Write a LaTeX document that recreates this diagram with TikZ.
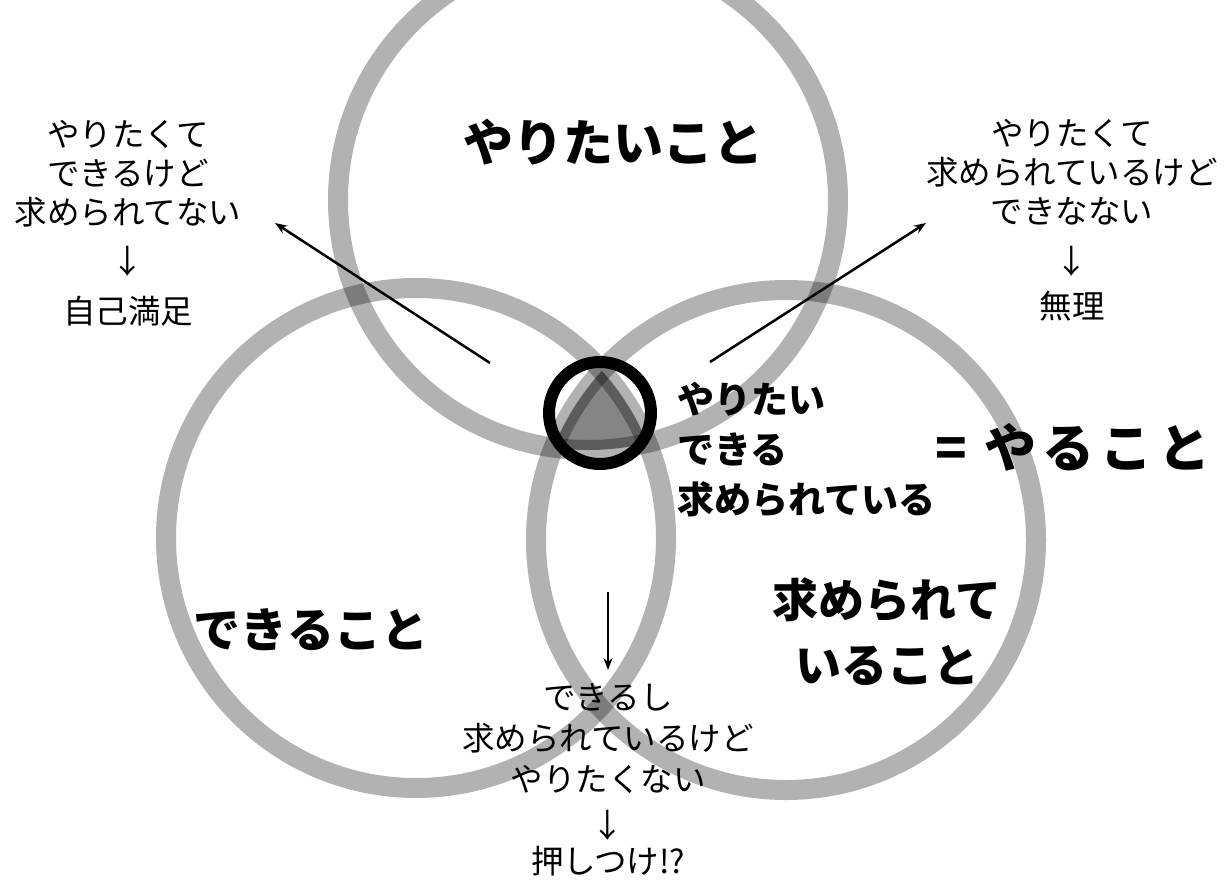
\documentclass[tikz,border=0pt]{standalone}
\usepackage{fontspec}
\newfontfamily\jp{Noto Sans CJK JP}
\usetikzlibrary{arrows.meta}
\tikzset{
  ring/.style={draw=black, draw opacity=0.3, line width=20pt},
  bigtxt/.style={font=\jp\bfseries\fontsize{50}{64}\selectfont, inner sep=0pt, align=center},
  midtxt/.style={font=\jp\bfseries\fontsize{37}{50}\selectfont, inner sep=0pt, align=left},
  smalltxt/.style={font=\jp\fontsize{32.5}{39}\selectfont, inner sep=0pt, align=center},
  arr/.style={line width=2.5pt, -{Stealth[length=12pt,width=9pt]}}
}
\begin{document}
\begin{tikzpicture}[x=1pt,y=-1pt]
\useasboundingbox (0,0) rectangle (1232,887);
\fill[white] (0,0) rectangle (1232,887);
% triple intersection fill
\begin{scope}
  \clip (588,200) circle[radius=250pt];
  \clip (416,538) circle[radius=250pt];
  \fill[black, fill opacity=0.48] (786,540) circle[radius=250pt];
\end{scope}
% circles
\draw[ring] (588,200) circle[radius=250pt];
\draw[ring] (416,538) circle[radius=250pt];
\draw[ring] (786,540) circle[radius=250pt];
% black ring
\draw[line width=12pt] (600,413) circle[radius=51pt];
% labels
\node[bigtxt] (want) at (613,142) {やりたいこと};
\node[bigtxt, font=\jp\bfseries\fontsize{47}{60}\selectfont] (can) at (311,630) {できること};
\node[bigtxt, font=\jp\bfseries\fontsize{46}{65}\selectfont] (need) at (887,632) {求められて\\いること};
\node[midtxt, anchor=west] (all) at (677,450) {やりたい\\できる\\求められている};
\node[bigtxt, font=\jp\bfseries\fontsize{52}{60}\selectfont] (todo) at (1073,447) {=\hspace{18pt}や\hspace{6pt}る\hspace{6pt}こ\hspace{6pt}と};
\node[smalltxt] (left) at (128,223.5) {やりたくて\\できるけど\\求められてない\\[10pt]↓\\[11pt]自己満足};
\node[smalltxt] (right) at (1072,220) {やりたくて\\求められているけど\\できなない\\[11pt]↓\\[6pt]無理};
\node[smalltxt, font=\jp\fontsize{32.5}{41}\selectfont] (bottom) at (608,779.5) {できるし\\求められているけど\\やりたくない\\[5pt]↓\\[-5pt]押しつけ!?};
% arrows
\coordinate (la1) at (490,363);
\coordinate (la2) at (275,223);
\coordinate (ra1) at (710,362);
\coordinate (ra2) at (926,223);
\coordinate (ba1) at (608,592);
\coordinate (ba2) at (608,670);
\draw[arr] (la1) -- (la2);
\draw[arr] (ra1) -- (ra2);
\draw[arr] (ba1) -- (ba2);
\end{tikzpicture}
\end{document}
